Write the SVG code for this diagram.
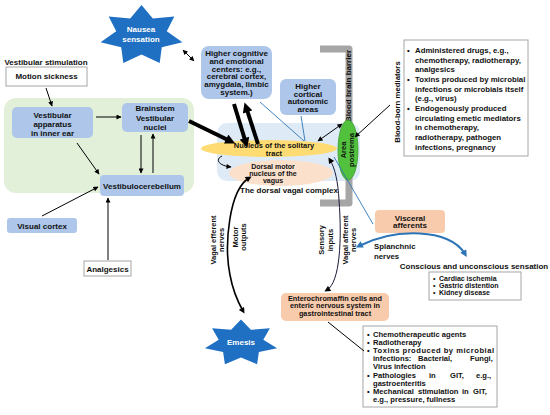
<svg xmlns="http://www.w3.org/2000/svg" width="550" height="415" viewBox="0 0 550 415">
<style>
text{font-family:"Liberation Sans",Arial,sans-serif;font-weight:bold;fill:#111;}
.c{text-anchor:middle;font-size:8px;}
.s{font-size:7px;}
.l{font-size:7.8px;}
.g{font-size:7.6px;}
.d{text-anchor:middle;font-size:7px;}
.e{text-anchor:middle;font-size:7.3px;}
.r{text-anchor:middle;font-size:7.5px;}
.w{fill:#fff;text-anchor:middle;font-size:8px;}
.bx{fill:#adc6ea;}
.pc{fill:#f8cbad;}
.wb{fill:#fff;stroke:#a6a6a6;stroke-width:1;}
.ln{fill:none;stroke:#000;stroke-width:1;}
.tk{fill:none;stroke:#000;stroke-width:4;}
.bl{fill:none;stroke:#2e75b6;stroke-width:0.9;}
.star{fill:#1f6fc3;}
</style>
<defs>
<marker id="ah" viewBox="0 0 10 10" refX="9" refY="5" markerWidth="6" markerHeight="5" markerUnits="userSpaceOnUse" orient="auto-start-reverse"><path d="M0,0 L10,5 L0,10 z" fill="#000"/></marker>
<marker id="ahT" viewBox="0 0 10 10" refX="2" refY="5" markerWidth="11" markerHeight="10" markerUnits="userSpaceOnUse" orient="auto-start-reverse"><path d="M0,0 L10,5 L0,10 z" fill="#000"/></marker>
<marker id="ahB" viewBox="0 0 10 10" refX="5" refY="5" markerWidth="8" markerHeight="7" markerUnits="userSpaceOnUse" orient="auto-start-reverse"><path d="M0,0 L10,5 L0,10 z" fill="#2e75b6"/></marker>
<marker id="ahC" viewBox="0 0 10 10" refX="5" refY="5" markerWidth="7" markerHeight="6" markerUnits="userSpaceOnUse" orient="auto-start-reverse"><path d="M0,0 L10,5 L0,10 z" fill="#000"/></marker>
</defs>

<g id="vestibular-region"><rect x="4" y="98" width="190" height="95" rx="12" fill="#e2efd9"/></g>
<g id="dorsal-vagal-complex"><rect x="217" y="123" width="143" height="58" rx="10" fill="#deebf7"/></g>
<g id="blood-brain-barrier">
<path d="M320,49 H349 V203 H320" fill="none" stroke="#a6a6a6" stroke-width="7" stroke-linejoin="round"/>
<text class="c" transform="translate(351,86) rotate(-90)">Blood brain barrier</text>
</g>

<g id="nausea"><polygon class="star" points="141.5,5 152.8,18.5 174.3,16.5 166.8,31.3 182.4,42.3 161.8,47.3 159.7,63 141.5,54.4 123.3,63 121.2,47.3 100.6,42.3 116.2,31.3 108.7,16.5 130.2,18.5"/>
<text class="w" x="141" y="32">Nausea</text><text class="w" x="141" y="42">sensation</text></g>

<g id="emesis"><polygon class="star" points="241,319.5 250.9,329.8 269.9,328.3 263.3,339.8 277.1,348.2 258.9,352.1 257.1,364.2 241,357.6 224.9,364.2 223.1,352.1 204.9,348.2 218.7,339.8 212.1,328.3 231.1,329.8"/>
<text class="w" x="241" y="345">Emesis</text></g>

<g id="vestibular-stimulation"><text class="c" x="46" y="65">Vestibular stimulation</text>
<rect class="wb" x="6" y="67" width="81" height="19"/><text class="c" x="46.5" y="79">Motion sickness</text></g>

<g id="vestibular-apparatus"><rect class="bx" x="12" y="107" width="81" height="31" rx="5"/>
<text class="c" x="52.5" y="118">Vestibular</text><text class="c" x="52.5" y="127">apparatus</text><text class="c" x="52.5" y="136">in inner ear</text></g>

<g id="brainstem"><rect class="bx" x="122" y="103" width="66" height="29" rx="5"/>
<text class="c" x="155" y="111">Brainstem</text><text class="c" x="155" y="121">Vestibular</text><text class="c" x="155" y="130">nuclei</text></g>

<g id="vestibulocerebellum"><rect class="bx" x="100" y="175" width="84" height="21" rx="4"/>
<text class="c" x="142" y="189">Vestibulocerebellum</text></g>

<g id="visual-cortex"><rect class="bx" x="7" y="218" width="70" height="15" rx="3"/>
<text class="c" x="42" y="229">Visual cortex</text></g>

<g id="analgesics"><rect class="wb" x="84" y="261" width="47" height="15"/>
<text class="c" x="107.5" y="271.5">Analgesics</text></g>

<g id="higher-cognitive"><rect class="bx" x="201" y="46" width="71" height="53" rx="8"/>
<text class="c" x="236.5" y="56">Higher cognitive</text><text class="c" x="236.5" y="63.8">and emotional</text><text class="c" x="236.5" y="71.6">centers: e.g.,</text><text class="c" x="236.5" y="79.4">cerebral cortex,</text><text class="c" x="236.5" y="87.2">amygdala, limbic</text><text class="c" x="236.5" y="95">system.)</text></g>

<g id="higher-cortical"><rect class="bx" x="280" y="79" width="56" height="36" rx="6"/>
<text class="c" x="308" y="89">Higher</text><text class="c" x="308" y="96.5">cortical</text><text class="c" x="308" y="104">autonomic</text><text class="c" x="308" y="111.5">areas</text></g>

<g id="dorsal-motor-nucleus"><ellipse cx="281" cy="173" rx="52" ry="13" fill="#fbe0cc"/>
<text class="d" x="273" y="168.8">Dorsal motor</text><text class="d" x="273" y="176">nucleus of the</text><text class="d" x="273" y="183.2">vagus</text></g>

<g id="nucleus-solitary"><ellipse cx="269" cy="148.5" rx="68" ry="8.5" fill="#ffdc73"/>
<text class="c" x="274" y="148" style="font-size:7.5px">Nucleus of the solitary</text><text class="c" x="274" y="155.6" style="font-size:7.5px">tract</text></g>

<g id="dvc-label"><text class="c" x="289" y="193">The dorsal vagal complex</text></g>

<g id="area-postrema"><ellipse cx="348" cy="150" rx="10" ry="30" fill="#52c13d" stroke="#3a9a2a" stroke-width="0.8"/>
<text class="r" transform="translate(346,150) rotate(-90)">Area</text>
<text class="r" transform="translate(353.5,150) rotate(-90)">postrema</text></g>

<g id="blood-born-mediators"><text class="c" style="font-size:7.8px" transform="translate(400,102) rotate(-90)">Blood-born mediators</text></g>

<g id="mediators-list"><rect class="wb" x="404" y="40" width="124" height="116"/>
<text class="l" x="407" y="52.8">•</text><text class="l" x="415" y="52.8">Administered drugs, e.g.,</text>
<text class="l" x="415" y="62.5">chemotherapy, radiotherapy,</text>
<text class="l" x="415" y="72.2">analgesics</text>
<text class="l" x="407" y="81.9">•</text><text class="l" x="415" y="81.9">Toxins produced by microbial</text>
<text class="l" x="415" y="91.6">infections or microbials itself</text>
<text class="l" x="415" y="101.3">(e.g., virus)</text>
<text class="l" x="407" y="111">•</text><text class="l" x="415" y="111">Endogenously produced</text>
<text class="l" x="415" y="120.7">circulating emetic mediators</text>
<text class="l" x="415" y="130.4">in chemotherapy,</text>
<text class="l" x="415" y="140.1">radiotherapy, pathogen</text>
<text class="l" x="415" y="149.8">infections, pregnancy</text>
</g>

<g id="visceral-afferents"><rect class="pc" x="375" y="210" width="70" height="23" rx="4"/>
<text class="c" x="410" y="220.5">Visceral</text><text class="c" x="410" y="228">afferents</text></g>

<g id="splanchnic-label"><text class="l" x="374" y="248.5">Splanchnic</text><text class="l" x="374" y="258.5">nerves</text></g>

<g id="conscious-label"><text class="c" x="474" y="269">Conscious and unconscious sensation</text></g>

<g id="sensation-list"><rect class="wb" x="429" y="272" width="92" height="28"/>
<text class="s" x="433" y="280.5">•</text><text class="s" x="439" y="280.5">Cardiac ischemia</text>
<text class="s" x="433" y="287.7">•</text><text class="s" x="439" y="287.7">Gastric distention</text>
<text class="s" x="433" y="294.9">•</text><text class="s" x="439" y="294.9">Kidney disease</text></g>

<g id="enterochromaffin"><rect class="pc" x="281" y="293" width="108" height="28" rx="5"/>
<text class="e" x="335" y="300.6">Enterochromaffin cells and</text><text class="e" x="335" y="308.1">enteric nervous system in</text><text class="e" x="335" y="315.6">gastrointestinal tract</text></g>

<g id="git-list"><rect class="wb" x="363" y="326" width="134" height="81"/>
<text class="g" x="367" y="337">•</text><text class="g" x="373" y="337">Chemotherapeutic agents</text>
<text class="g" x="367" y="345.1">•</text><text class="g" x="373" y="345.1">Radiotherapy</text>
<text class="g" x="367" y="353.2">•</text><text class="g" x="373" y="353.2" textLength="121" lengthAdjust="spacing">Toxins produced by microbial</text>
<text class="g" y="361.3"><tspan x="373">infections:</tspan> <tspan x="418">Bacterial,</tspan> <tspan x="470">Fungi,</tspan></text>
<text class="g" x="373" y="369.4">Virus infection</text>
<text class="g" x="367" y="377.5">•</text><text class="g" y="377.5"><tspan x="373">Pathologies</tspan> <tspan x="429">in</tspan> <tspan x="450">GIT,</tspan> <tspan x="476">e.g.,</tspan></text>
<text class="g" x="373" y="385.6">gastroenteritis</text>
<text class="g" x="367" y="393.7">•</text><text class="g" y="393.7"><tspan x="373">Mechanical</tspan> <tspan x="418">stimulation</tspan> <tspan x="462">in</tspan> <tspan x="473">GIT,</tspan></text>
<text class="g" x="373" y="401.8">e.g., pressure, fullness</text>
</g>

<g id="pathway-labels">
<text class="r" transform="translate(216,240) rotate(-90)">Vagal efferent</text>
<text class="r" transform="translate(224,240) rotate(-90)">nerves</text>
<text class="r" transform="translate(238,237) rotate(-90)">Motor</text>
<text class="r" transform="translate(246,237) rotate(-90)">outputs</text>
<text class="r" transform="translate(324,240) rotate(-90)">Sensory</text>
<text class="r" transform="translate(333,240) rotate(-90)">inputs</text>
<text class="r" transform="translate(348,240) rotate(-90)">Vagal afferent</text>
<text class="r" transform="translate(356,240) rotate(-90)">nerves</text>
</g>

<g id="connectors">
<line class="ln" x1="46" y1="88" x2="52" y2="106" marker-end="url(#ah)"/>
<line class="ln" x1="96" y1="117" x2="121" y2="117" marker-end="url(#ah)"/>
<line class="ln" x1="141" y1="135" x2="141" y2="173" marker-end="url(#ah)"/>
<line class="ln" x1="153" y1="173" x2="153" y2="134" marker-end="url(#ah)"/>
<line class="ln" x1="77" y1="143" x2="99" y2="174" marker-end="url(#ah)"/>
<line class="ln" x1="42" y1="216" x2="98" y2="187" marker-end="url(#ah)"/>
<line class="ln" x1="108" y1="260" x2="108" y2="198" marker-end="url(#ah)"/>
<line class="ln" x1="183" y1="50" x2="194" y2="61" marker-start="url(#ah)" marker-end="url(#ah)"/>
<line class="ln" x1="390" y1="105" x2="355" y2="137" marker-end="url(#ah)"/>
<line class="ln" x1="342" y1="124" x2="318" y2="141" marker-start="url(#ah)" marker-end="url(#ah)"/>
<path class="ln" d="M222,156 C214,160 220,166 231,167" marker-end="url(#ah)"/>
<line class="tk" x1="189" y1="121" x2="228" y2="140" marker-end="url(#ahT)"/>
<line class="tk" x1="234" y1="104" x2="245" y2="140" marker-end="url(#ahT)"/>
<line class="tk" x1="258" y1="144" x2="247" y2="110" marker-end="url(#ahT)"/>
<line class="bl" x1="260" y1="102" x2="304" y2="141"/>
<line class="bl" x1="301" y1="116" x2="305" y2="141"/>
<line class="bl" x1="373" y1="224" x2="334" y2="157"/>
<path d="M465,254 C450,228 395,228 359,246" fill="none" stroke="#2e75b6" stroke-width="2" marker-start="url(#ahB)" marker-end="url(#ahB)"/>
<path d="M249,178 C229,190 224,245 230,275 C233,292 238,302 243,311" fill="none" stroke="#000" stroke-width="1.6" marker-start="url(#ahC)" marker-end="url(#ahC)"/>
<path d="M327,290 C340,282 342,240 339,200 C338,182 335,168 330,160" fill="none" stroke="#1a1a3a" stroke-width="1" marker-start="url(#ahC)" marker-end="url(#ahC)"/>
<line class="ln" x1="328" y1="322" x2="364" y2="351"/>
</g>
</svg>
